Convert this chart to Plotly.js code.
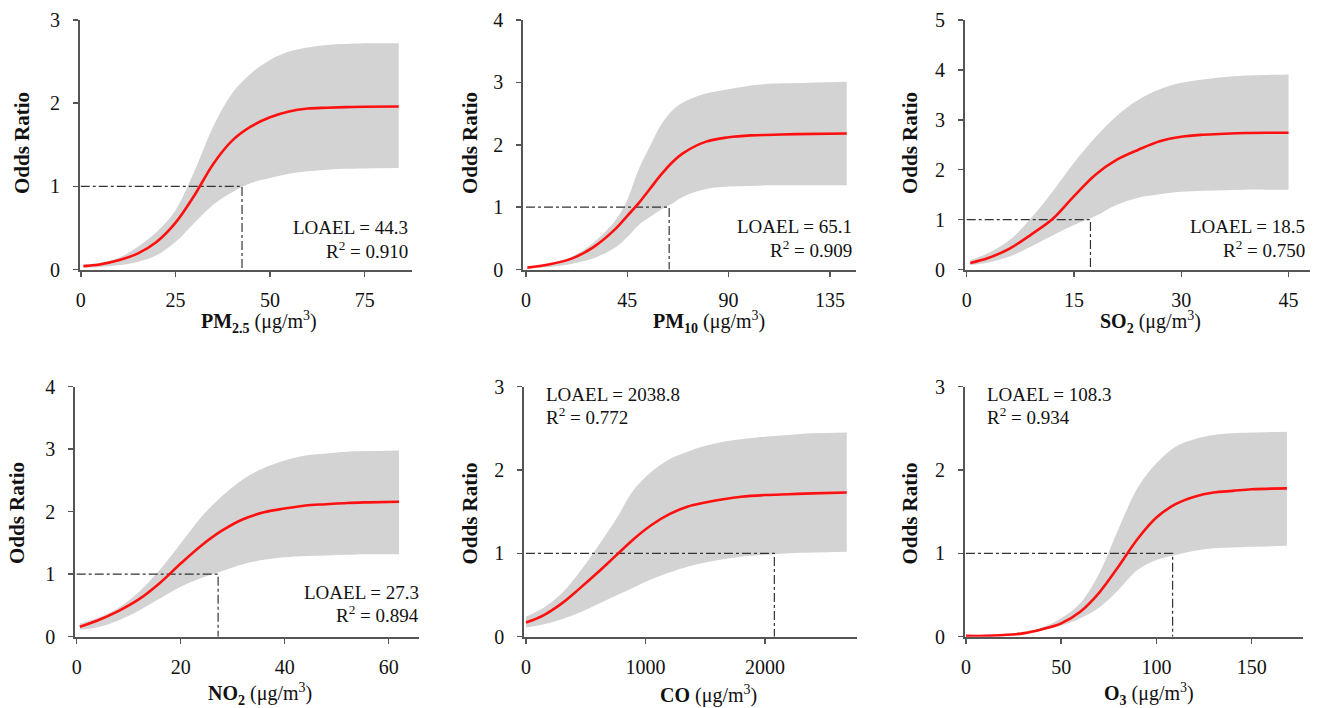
<!DOCTYPE html>
<html><head><meta charset="utf-8">
<script src="https://cdn.plot.ly/plotly-3.0.1.min.js"></script>
<style>html,body{margin:0;padding:0;background:#fff}#chart{width:1320px;height:708px}</style>
</head><body><div id="chart"></div>
<script>
// ---------- DATA ----------
// PM2.5
const pm25X  = [0.7,5,10,15,20,25,30,35,40,45,50,55,60,65,70,75,84];
const pm25OR = [0.04,0.06,0.11,0.19,0.33,0.56,0.89,1.27,1.55,1.72,1.83,1.90,1.935,1.945,1.952,1.957,1.96];
const pm25Hi = [0.06,0.08,0.14,0.27,0.45,0.71,1.18,1.72,2.12,2.36,2.52,2.62,2.67,2.70,2.71,2.72,2.72];
const pm25Lo = [0.02,0.03,0.05,0.09,0.17,0.33,0.56,0.78,0.93,1.04,1.10,1.15,1.18,1.20,1.21,1.215,1.22];
const pm25Mark = 42.6;
// PM10
const pm10X  = [0.6,10,20,30,40,45,50,55,60,65,70,80,90,100,110,120,142.5];
const pm10OR = [0.03,0.08,0.17,0.36,0.66,0.86,1.06,1.29,1.52,1.72,1.87,2.05,2.12,2.15,2.16,2.17,2.18];
const pm10Hi = [0.04,0.09,0.20,0.43,0.80,1.12,1.60,1.97,2.32,2.55,2.68,2.82,2.89,2.95,2.98,2.99,3.01];
const pm10Lo = [0.02,0.04,0.09,0.18,0.36,0.52,0.71,0.84,0.96,1.06,1.17,1.29,1.33,1.34,1.35,1.35,1.35];
const pm10Mark = 63.6;
// SO2
const so2X  = [0.5,3,6,9,12,15,18,21,24,27,30,33,36,39,42,45];
const so2OR = [0.13,0.23,0.42,0.70,1.01,1.47,1.90,2.20,2.40,2.57,2.66,2.70,2.72,2.735,2.74,2.74];
const so2Hi = [0.19,0.33,0.59,1.03,1.56,2.14,2.65,3.08,3.40,3.61,3.74,3.81,3.86,3.89,3.90,3.91];
const so2Lo = [0.09,0.14,0.26,0.46,0.68,0.89,1.07,1.30,1.44,1.51,1.56,1.58,1.59,1.60,1.60,1.60];
const so2Mark = 17.3;
// NO2
const no2X  = [0.6,4,8,12,16,20,24,28,32,36,40,44,48,52,56,62];
const no2OR = [0.16,0.26,0.41,0.60,0.86,1.17,1.46,1.70,1.88,1.99,2.05,2.10,2.12,2.14,2.15,2.16];
const no2Hi = [0.21,0.30,0.46,0.72,1.07,1.49,1.92,2.25,2.52,2.70,2.82,2.90,2.93,2.96,2.97,2.98];
const no2Lo = [0.11,0.15,0.26,0.42,0.61,0.80,0.94,1.05,1.16,1.23,1.27,1.29,1.30,1.31,1.32,1.32];
const no2Mark = 27.2;
// CO
const coX  = [0,150,300,450,600,750,900,1050,1200,1350,1500,1650,1800,2000,2200,2400,2684];
const coOR = [0.17,0.26,0.40,0.58,0.77,0.97,1.17,1.34,1.47,1.56,1.61,1.65,1.68,1.70,1.71,1.72,1.73];
const coHi = [0.24,0.35,0.52,0.78,1.08,1.40,1.76,1.98,2.13,2.22,2.29,2.34,2.37,2.40,2.42,2.44,2.45];
const coLo = [0.11,0.15,0.21,0.29,0.39,0.49,0.59,0.69,0.77,0.84,0.89,0.93,0.96,0.98,1.00,1.01,1.02];
const coMark = 2078;
// O3
const o3X  = [0,10,20,30,40,50,60,70,80,90,100,110,120,130,140,150,168.5];
const o3OR = [0.01,0.01,0.02,0.04,0.09,0.16,0.30,0.53,0.84,1.17,1.43,1.59,1.68,1.73,1.75,1.77,1.78];
const o3Hi = [0.01,0.02,0.03,0.06,0.11,0.22,0.40,0.76,1.29,1.78,2.08,2.28,2.37,2.42,2.44,2.45,2.46];
const o3Lo = [0.00,0.01,0.01,0.03,0.07,0.13,0.22,0.35,0.56,0.80,0.92,0.98,1.03,1.06,1.07,1.08,1.09];
const o3Mark = 108.5;

const refOR = 1;
const xTitles = ['<b>PM<sub>2.5</sub></b> (μg/m<sup>3</sup>)','<b>PM<sub>10</sub></b> (μg/m<sup>3</sup>)','<b>SO<sub>2</sub></b> (μg/m<sup>3</sup>)',
                 '<b>NO<sub>2</sub></b> (μg/m<sup>3</sup>)','<b>CO</b> (μg/m<sup>3</sup>)','<b>O<sub>3</sub></b> (μg/m<sup>3</sup>)'];
const yTitle = 'Odds Ratio';
const loaelText = ['LOAEL = 44.3','LOAEL = 65.1','LOAEL = 18.5','LOAEL = 27.3','LOAEL = 2038.8','LOAEL = 108.3'];
const r2Text = ['R<sup>2</sup> = 0.910','R<sup>2</sup> = 0.909','R<sup>2</sup> = 0.750','R<sup>2</sup> = 0.894','R<sup>2</sup> = 0.772','R<sup>2</sup> = 0.934'];
const xTicks = [[0,25,50,75],[0,45,90,135],[0,15,30,45],[0,20,40,60],[0,1000,2000],[0,50,100,150]];

// ---------- LAYOUT GEOMETRY ----------
const W = 1320, H = 708;
const panels = [
  {x:pm25X, or:pm25OR, hi:pm25Hi, lo:pm25Lo, mark:pm25Mark, xr:[-0.2,87.5], yr:[0,3], dom:[80,412], top:20, bot:269.5,
   txt:{anchor:'right', x:410, y1:227.5, y2:249.5}, xt:[259,322], yt:[22,143]},
  {x:pm10X, or:pm10OR, hi:pm10Hi, lo:pm10Lo, mark:pm10Mark, xr:[-1.2,146.6], yr:[0,4], dom:[523.3,856], top:20, bot:269.5,
   txt:{anchor:'right', x:854, y1:227, y2:249}, xt:[709,322], yt:[470,143]},
  {x:so2X, or:so2OR, hi:so2Hi, lo:so2Lo, mark:so2Mark, xr:[-0.24,48], yr:[0,5], dom:[965,1310], top:20, bot:269.5,
   txt:{anchor:'right', x:1306.5, y1:227, y2:249}, xt:[1150,322], yt:[910,143]},
  {x:no2X, or:no2OR, hi:no2Hi, lo:no2Lo, mark:no2Mark, xr:[-0.27,65.9], yr:[0,4], dom:[75.3,419.3], top:386.7, bot:636.7,
   txt:{anchor:'right', x:420.5, y1:592, y2:614}, xt:[260,694], yt:[17,513]},
  {x:coX, or:coOR, hi:coHi, lo:coLo, mark:coMark, xr:[-14,2772], yr:[0,3], dom:[524.3,857.3], top:386.7, bot:636.7,
   txt:{anchor:'left', x:544.3, y1:394, y2:416.5}, xt:[708,694], yt:[469.5,513]},
  {x:o3X, or:o3OR, hi:o3Hi, lo:o3Lo, mark:o3Mark, xr:[-0.5,176.8], yr:[0,3], dom:[965,1302.7], top:386.7, bot:636.7,
   txt:{anchor:'left', x:985, y1:394, y2:416.5}, xt:[1149,694], yt:[909.5,513]}
];

const FONT = 'Liberation Serif, Times New Roman, serif';
const AXC = '#555555';
const traces = [];
const layout = {
  width: W, height: H, margin:{l:0,r:0,t:0,b:0}, showlegend:false,
  paper_bgcolor:'#ffffff', plot_bgcolor:'rgba(0,0,0,0)',
  font:{family:FONT, size:19, color:'#111'},
  annotations: []
};
const px = p => p / W, py = p => 1 - p / H;

panels.forEach((p, i) => {
  const n = i + 1, xa = 'x' + (n === 1 ? '' : n), ya = 'y' + (n === 1 ? '' : n);
  traces.push({x:p.x, y:p.lo, xaxis:xa, yaxis:ya, mode:'lines', line:{width:0, shape:'spline', smoothing:1}, hoverinfo:'skip'});
  traces.push({x:p.x, y:p.hi, xaxis:xa, yaxis:ya, mode:'lines', line:{width:0, shape:'spline', smoothing:1},
               fill:'tonexty', fillcolor:'#d3d3d3', hoverinfo:'skip'});
  traces.push({x:[0, p.mark, p.mark], y:[refOR, refOR, 0], xaxis:xa, yaxis:ya, mode:'lines',
               line:{color:'#333', width:1.2, dash:'dashdot'}, hoverinfo:'skip'});
  traces.push({x:p.x, y:p.or, xaxis:xa, yaxis:ya, mode:'lines', line:{color:'#ff1010', width:2.6, shape:'spline', smoothing:1}});
  const axCommon = {showgrid:false, zeroline:false, showline:true, linecolor:AXC, linewidth:2,
                    ticks:'outside', ticklen:5, tickwidth:1.5, tickcolor:AXC,
                    tickfont:{family:FONT, size:20, color:'#111'}, fixedrange:true};
  layout['xaxis' + (n === 1 ? '' : n)] = Object.assign({}, axCommon, {
    domain:[px(p.dom[0]), px(p.dom[1])], range:p.xr, anchor:ya, tickvals:xTicks[i], ticklabelstandoff:6
  });
  layout['yaxis' + (n === 1 ? '' : n)] = Object.assign({}, axCommon, {
    domain:[py(p.bot), py(p.top)], range:p.yr, anchor:xa, dtick:1, ticklabelstandoff:9
  });
  layout.annotations.push({xref:'paper', yref:'paper', x:px(p.txt.x), y:py(p.txt.y1), xanchor:p.txt.anchor, yanchor:'middle',
                           text:loaelText[i], showarrow:false, font:{family:FONT, size:19, color:'#111'}});
  layout.annotations.push({xref:'paper', yref:'paper', x:px(p.txt.x), y:py(p.txt.y2), xanchor:p.txt.anchor, yanchor:'middle',
                           text:r2Text[i], showarrow:false, font:{family:FONT, size:19, color:'#111'}});
  layout.annotations.push({xref:'paper', yref:'paper', x:px(p.xt[0]), y:py(p.xt[1]), xanchor:'center', yanchor:'middle',
                           text:xTitles[i], showarrow:false, font:{family:FONT, size:20, color:'#111'}});
  layout.annotations.push({xref:'paper', yref:'paper', x:px(p.yt[0]), y:py(p.yt[1]), xanchor:'center', yanchor:'middle',
                           text:'<b>' + yTitle + '</b>', textangle:-90, showarrow:false, font:{family:FONT, size:21, color:'#111'}});
});

Plotly.newPlot('chart', traces, layout, {displayModeBar:false, staticPlot:true});
</script></body></html>
